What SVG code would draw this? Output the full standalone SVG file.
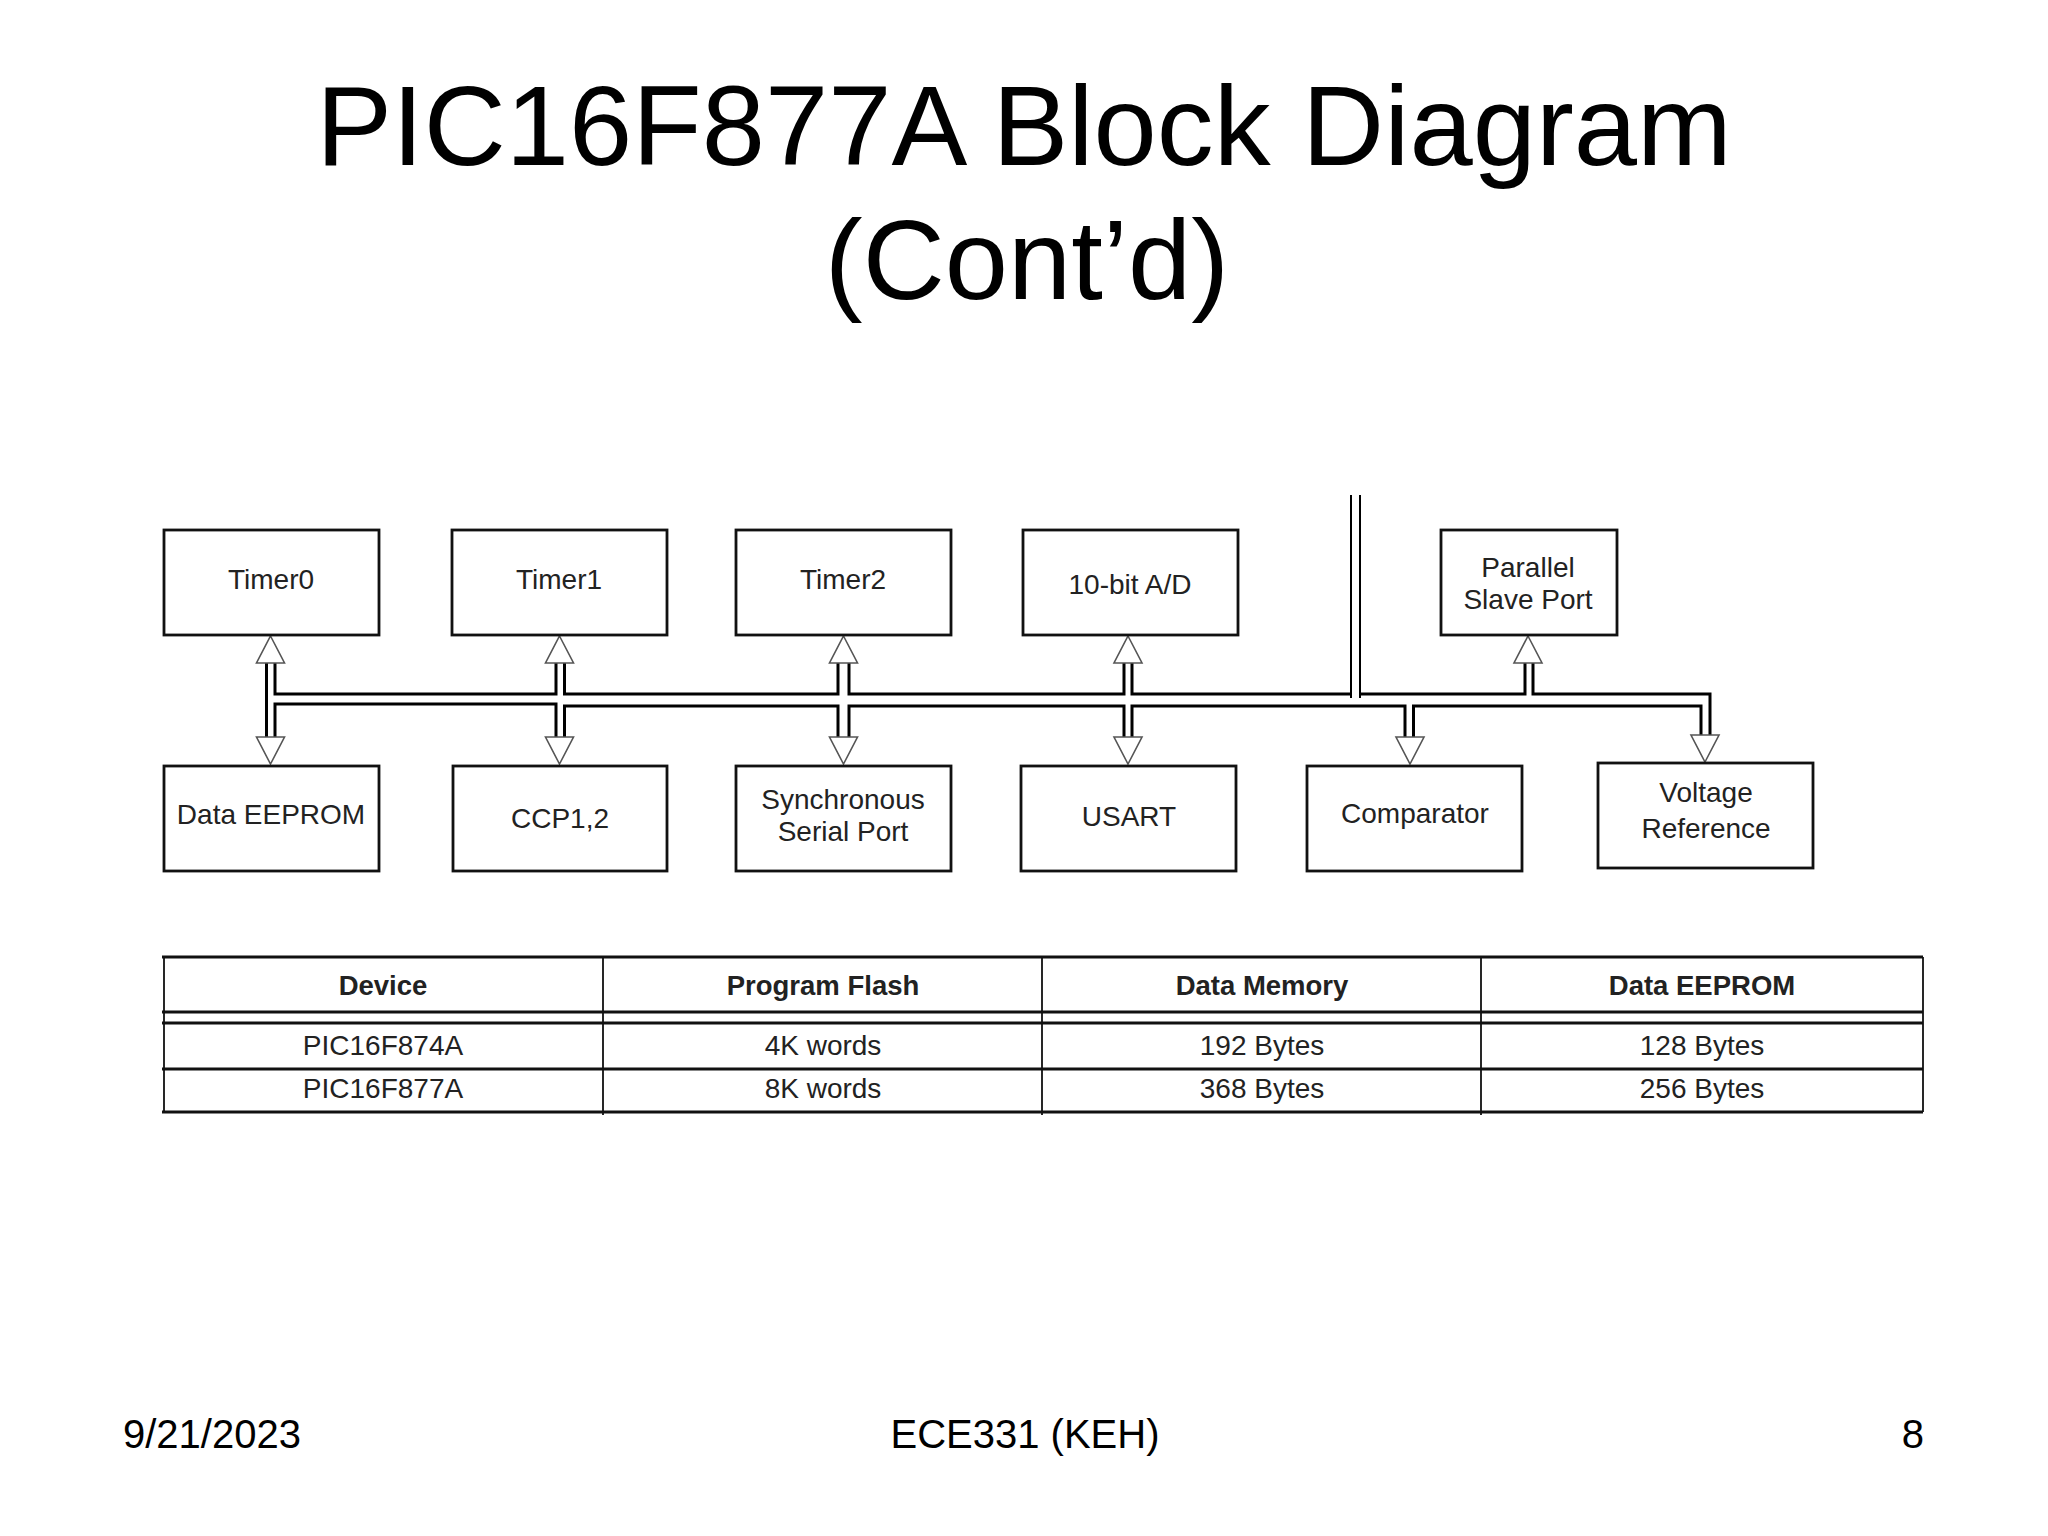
<svg xmlns="http://www.w3.org/2000/svg" width="2048" height="1536" viewBox="0 0 2048 1536">
<style>
text{font-family:"Liberation Sans",Arial,sans-serif;fill:#000}
.title{font-size:113.700px;text-anchor:middle}
.foot{font-size:40px}
.lbl{font-size:28px;text-anchor:middle;fill:#222}
.hdr{font-size:27.500px;font-weight:bold;text-anchor:middle;fill:#222}
.box{fill:#fff;stroke:#111;stroke-width:2.800}
.bus{fill:none;stroke:#000;stroke-width:3}
.thin{fill:none;stroke:#000;stroke-width:2}
.head{fill:#fff;stroke:#555;stroke-width:1.600}
.t1{stroke:#111;stroke-width:3.200;fill:none}
.t2{stroke:#111;stroke-width:1.800;fill:none}
</style>
<defs>
<polygon id="up" class="head" points="0,0 14,27 -14,27"/>
<polygon id="down" class="head" points="0,0 14,-27 -14,-27"/>
</defs>
<rect width="2048" height="1536" fill="#fff"/>
<g id="title">
<text class="title" x="1024" y="165">PIC16F877A Block Diagram</text>
<text class="title" x="1027" y="299">(Cont’d)</text>
</g>
<g id="connectors">
<path class="thin" d="M1351 495V698M1360 495V698"/>
<g class="bus">
<path d="M266.500 662V737M275 662V694H556V662M564.500 662V694H838V662M849 662V694H1124V662M1132 662V694H1351M1360 694H1525V662M1533 662V694H1710V735"/>
<path d="M275 737V704H556V737M564.500 737V706H838V737M849 737V706H1124V737M1132 737V706H1405V737M1413.500 737V706H1701V735"/>
</g>
<use href="#up" x="270.500" y="636"/><use href="#down" x="270.500" y="764"/>
<use href="#up" x="559.500" y="636"/><use href="#down" x="559.500" y="764"/>
<use href="#up" x="843.500" y="636"/><use href="#down" x="843.500" y="764"/>
<use href="#up" x="1128" y="636"/><use href="#down" x="1128" y="764"/>
<use href="#down" x="1410" y="764"/>
<use href="#up" x="1528" y="636"/>
<use href="#down" x="1705" y="762"/>
</g>
<g id="timer0"><rect class="box" x="164" y="530" width="215" height="105"/><text class="lbl" x="271" y="589">Timer0</text></g>
<g id="timer1"><rect class="box" x="452" y="530" width="215" height="105"/><text class="lbl" x="559" y="589">Timer1</text></g>
<g id="timer2"><rect class="box" x="736" y="530" width="215" height="105"/><text class="lbl" x="843" y="589">Timer2</text></g>
<g id="ad"><rect class="box" x="1023" y="530" width="215" height="105"/><text class="lbl" x="1130" y="594">10-bit A/D</text></g>
<g id="psp"><rect class="box" x="1441" y="530" width="176" height="105"/><text class="lbl" x="1528" y="577">Parallel</text><text class="lbl" x="1528" y="609">Slave Port</text></g>
<g id="eeprom"><rect class="box" x="164" y="766" width="215" height="105"/><text class="lbl" x="271" y="824">Data EEPROM</text></g>
<g id="ccp"><rect class="box" x="453" y="766" width="214" height="105"/><text class="lbl" x="560" y="828">CCP1,2</text></g>
<g id="ssp"><rect class="box" x="736" y="766" width="215" height="105"/><text class="lbl" x="843" y="809">Synchronous</text><text class="lbl" x="843" y="841">Serial Port</text></g>
<g id="usart"><rect class="box" x="1021" y="766" width="215" height="105"/><text class="lbl" x="1129" y="826">USART</text></g>
<g id="comparator"><rect class="box" x="1307" y="766" width="215" height="105"/><text class="lbl" x="1415" y="823">Comparator</text></g>
<g id="vref"><rect class="box" x="1598" y="763" width="215" height="105"/><text class="lbl" x="1706" y="802">Voltage</text><text class="lbl" x="1706" y="838">Reference</text></g>
<g id="table">
<path class="t1" d="M162 957H1923M162 1012H1923M162 1023H1923M162 1069H1923M162 1112H1923"/>
<path class="t2" d="M164 957V1112M603 957V1115M1042 957V1115M1481 957V1115M1923 957V1112"/>
<text class="hdr" x="383" y="995">Device</text><text class="hdr" x="823" y="995">Program Flash</text><text class="hdr" x="1262" y="995">Data Memory</text><text class="hdr" x="1702" y="995">Data EEPROM</text>
<text class="lbl" x="383" y="1055">PIC16F874A</text><text class="lbl" x="823" y="1055">4K words</text><text class="lbl" x="1262" y="1055">192 Bytes</text><text class="lbl" x="1702" y="1055">128 Bytes</text>
<text class="lbl" x="383" y="1098">PIC16F877A</text><text class="lbl" x="823" y="1098">8K words</text><text class="lbl" x="1262" y="1098">368 Bytes</text><text class="lbl" x="1702" y="1098">256 Bytes</text>
</g>
<g id="footer">
<text class="foot" x="123" y="1448">9/21/2023</text>
<text class="foot" x="1025" y="1448" text-anchor="middle">ECE331 (KEH)</text>
<text class="foot" x="1924" y="1448" text-anchor="end">8</text>
</g>
</svg>
